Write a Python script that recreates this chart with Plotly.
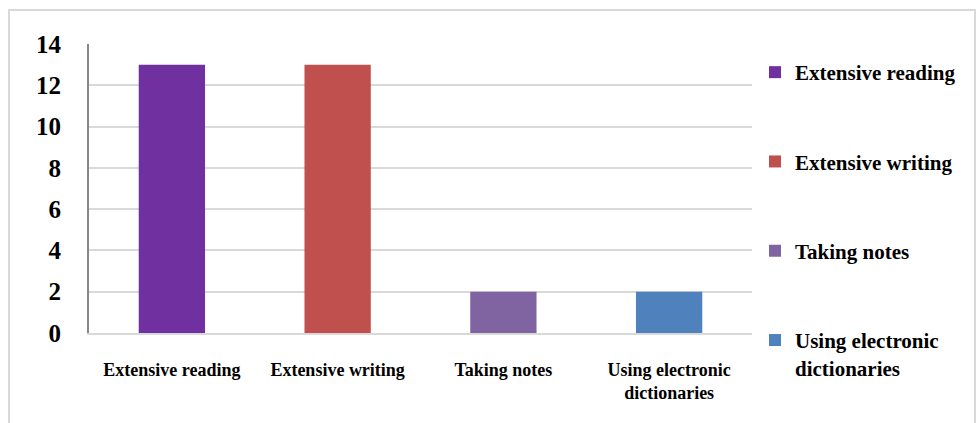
import plotly.graph_objects as go

categories = ["Extensive reading", "Extensive writing", "Taking notes", "Using electronic dictionaries"]
tick_text = ["Extensive reading", "Extensive writing", "Taking notes", "Using electronic<br>dictionaries"]
legend_names = ["Extensive reading", "Extensive writing", "Taking notes", "Using electronic<br>dictionaries"]
values = [13, 13, 2, 2]
colors = ["#7030A0", "#C0504D", "#8064A2", "#4F81BD"]

FONT = "Liberation Serif"

fig = go.Figure()
for i, cat in enumerate(categories):
    fig.add_trace(go.Bar(
        x=[cat], y=[values[i]], name=legend_names[i],
        marker=dict(color=colors[i], line=dict(width=0)),
        legendgroup=f"g{i}",
    ))

W, H = 977, 423
L, R, T, B = 89, 225, 44, 90
pw, ph = W - L - R, H - T - B

def px_to_paper_x(px):
    return (px - L) / pw

def px_to_paper_y(py):
    return (H - B - py) / ph

fig.update_layout(
    width=W, height=H,
    margin=dict(l=L, r=R, t=T, b=B),
    paper_bgcolor="white", plot_bgcolor="white",
    barmode="relative", bargap=0.6,
    font=dict(family=FONT, color="black", weight="bold"),
    showlegend=True,
    legend=dict(
        x=px_to_paper_x(755), y=px_to_paper_y(52), xanchor="left", yanchor="top",
        font=dict(family=FONT, size=21, color="black", weight="bold"),
        tracegroupgap=59, valign="top", itemwidth=30, maxheight=400,
        bgcolor="rgba(0,0,0,0)",
    ),
    xaxis=dict(
        tickmode="array", tickvals=categories, ticktext=tick_text,
        tickfont=dict(family=FONT, size=18, color="black", weight="bold"),
        showline=True, linecolor="#D9D9D9", linewidth=2,
        ticks="", ticklabelstandoff=19, showgrid=False,
    ),
    yaxis=dict(
        range=[0, 14], dtick=2,
        tickfont=dict(family=FONT, size=25, color="black", weight="bold"),
        showline=True, linecolor="#868686", linewidth=2,
        gridcolor="#D9D9D9", gridwidth=2,
        ticks="", ticklabelstandoff=21, zeroline=False,
    ),
    shapes=[dict(
        type="rect", xref="paper", yref="paper",
        x0=px_to_paper_x(9), x1=px_to_paper_x(975),
        y0=px_to_paper_y(430), y1=px_to_paper_y(10),
        line=dict(color="#D9D9D9", width=2), fillcolor="rgba(0,0,0,0)", layer="below",
    )],
)

fig.write_html("out.html")
